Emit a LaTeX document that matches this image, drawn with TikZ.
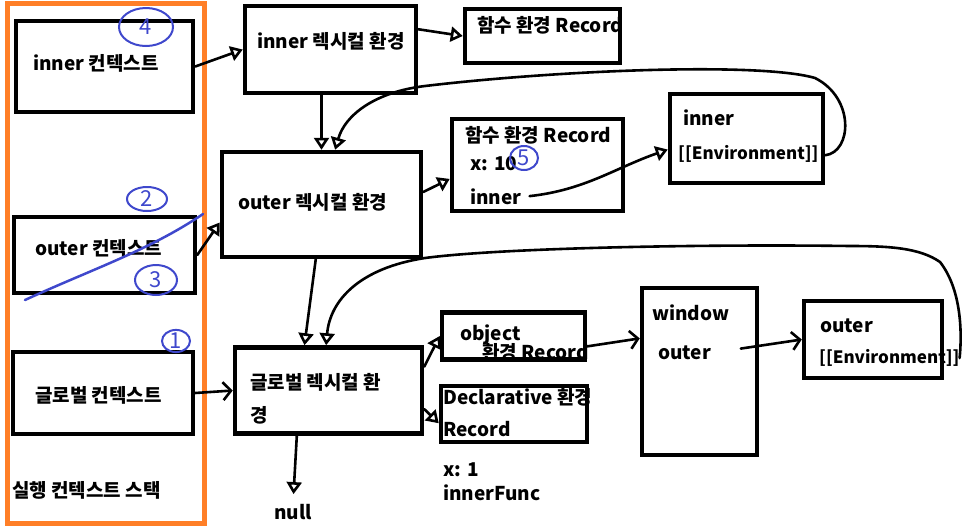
\documentclass[tikz,border=0pt]{standalone}
\usepackage{fontspec}
\setmainfont{Noto Sans CJK KR}
\usepackage{xcolor}
\usepackage{tikz}
\usetikzlibrary{arrows.meta,shapes.geometric}

\definecolor{paintorange}{RGB}{255,127,39}
\definecolor{paintblue}{RGB}{63,72,204}

\tikzset{
  box/.style={draw, rectangle, line width=4.5pt, inner sep=0pt},
  lbl/.style={anchor=west, inner sep=0pt, font=\bfseries\fontsize{19}{21}\selectfont},
  slot/.style={lbl, font=\bfseries\fontsize{17}{19}\selectfont},
  conn/.style={line width=2.6pt, line cap=round, line join=round},
  tri/.style={conn, -{Triangle[open, length=12pt, width=15pt]}},
  barb/.style={conn, -{Straight Barb[length=8pt, width=18pt]}},
  numcirc/.style={ellipse, draw=paintblue, line width=2pt, text=paintblue, inner sep=0pt, font=\fontsize{22}{22}\selectfont}
}

\begin{document}
\begin{tikzpicture}[x=1pt, y=-1pt]
    \useasboundingbox (0,0) rectangle (977,531);

    % stack
    \node[box, draw=paintorange, line width=5pt, minimum width=197pt, minimum height=520pt] (stack) at (105.5,263) {};

    % texts
    \node[lbl] (ctxInnerTxt) at (33,63) {inner 컨텍스트};
    \node[lbl] (ctxOuterTxt) at (35,248) {outer 컨텍스트};
    \node[lbl] (ctxGlobalTxt) at (35,395) {글로벌 컨텍스트};
    \node[lbl] (stackTxt) at (12,490) {실행 컨텍스트 스택};
    \node[lbl] (lexInnerTxt) at (257,41) {inner 렉시컬 환경};
    \node[lbl] (recInnerFnTxt) at (477,25) {함수 환경 Record};
    \node[lbl] (lexOuterTxt) at (238,202) {outer 렉시컬 환경};
    \node[lbl] (recOuterFnTxt) at (465,135) {함수 환경 Record};
    \node[lbl] (varX) at (470,164) {x: 10};
    \node[lbl] (varInner) at (470,197) {inner};
    \node[lbl] (envInnerName) at (683,118) {inner};
    \node[slot] (envInnerSlot) at (678,154) {[[Environment]]};
    \node[lbl] (lexGlobalTxtA) at (250,382) {글로벌 렉시컬 환};
    \node[lbl] (lexGlobalTxtB) at (250,415) {경};
    \node[lbl] (objTxtA) at (460,335) {object};
    \node[lbl] (objTxtB) at (482,352) {환경 Record};
    \node[lbl] (declTxtA) at (443,397) {Declarative 환경};
    \node[lbl] (declTxtB) at (443,429) {Record};
    \node[lbl] (varX1) at (443,470) {x: 1};
    \node[lbl] (varInnerFunc) at (443,493) {innerFunc};
    \node[lbl] (winTxt) at (652,313) {window};
    \node[lbl] (winOuter) at (658,353) {outer};
    \node[lbl] (envOuterName) at (820,326) {outer};
    \node[slot] (envOuterSlot) at (819,358) {[[Environment]]};
    \node[lbl] (null) at (274,512) {null};

    % boxes
    \node[box, minimum width=177pt, minimum height=91pt] (ctxInner) at (104.5,66.5) {};
    \node[box, minimum width=181pt, minimum height=76pt] (ctxOuter) at (104.5,255) {};
    \node[box, minimum width=180pt, minimum height=82pt] (ctxGlobal) at (103,393) {};
    \node[box, minimum width=171pt, minimum height=87pt] (lexInner) at (330.5,49.5) {};
    \node[box, minimum width=155pt, minimum height=54pt] (recInnerFn) at (542.5,36) {};
    \node[box, minimum width=199pt, minimum height=105pt] (lexOuter) at (321.5,204.5) {};
    \node[box, minimum width=171pt, minimum height=92pt] (recOuterFn) at (537.5,165) {};
    \node[box, minimum width=153pt, minimum height=89pt] (envInner) at (746.5,138.5) {};
    \node[box, minimum width=187pt, minimum height=86pt] (lexGlobal) at (328.5,390.5) {};
    \node[box, minimum width=143pt, minimum height=47pt] (recObject) at (513.5,336) {};
    \node[box, minimum width=146pt, minimum height=56pt] (recDecl) at (514,414) {};
    \node[box, minimum width=115pt, minimum height=167pt] (window) at (699.5,371.5) {};
    \node[box, minimum width=138pt, minimum height=77pt] (envOuter) at (873,339.5) {};

    % connectors
    \draw[tri] (ctxInner.east) -- (lexInner.west);
    \draw[tri] (ctxOuter.east) -- (lexOuter.190);
    \draw[barb] (ctxGlobal.east) -- (lexGlobal.west);
    \draw[tri] (lexInner.13) -- (recInnerFn.west);
    \draw[tri] (lexInner.south -| lexOuter.north) -- (lexOuter.north);
    \draw[tri] (envInner.-12) .. controls (852,152) and (855,98) .. (815,78)
        .. controls (760,62) and (560,70) .. (425,86)
        .. controls (375,92) and (345,115) .. (lexOuter.76);
    \draw[tri] (lexOuter.7) -- (recOuterFn.189);
    \draw[tri, shorten <=8pt] (varInner.east) .. controls (585,190) and (615,168) .. (envInner.188);
    \draw[tri] (lexOuter.-96) -- (lexGlobal.118);
    \draw[tri] (envOuterSlot.east) .. controls (962,335) and (962,290) .. (940,262)
        .. controls (920,248) and (890,246) .. (850,246)
        .. controls (700,244) and (500,248) .. (425,258)
        .. controls (360,268) and (330,300) .. (lexGlobal.93);
    \draw[tri] (lexGlobal.14) -- (recObject.west);
    \draw[tri] (lexGlobal.-11) -- (recDecl.187);
    \draw[tri, shorten >=10pt] (lexGlobal.-125) -- (null.north);
    \draw[barb] (recObject.-8) -- (window.151);
    \draw[barb, shorten <=30pt] (winOuter.east) -- (envOuter.west);

    % blue marks
    \draw[paintblue, line width=2.5pt, line cap=round] (25,300) .. controls (90,270) and (150,250) .. (203,214);
    \node[numcirc, minimum width=54pt, minimum height=38pt] (num4) at (146,27) {4};
    \node[numcirc, minimum width=40pt, minimum height=24pt] (num2) at (147,199) {2};
    \node[numcirc, minimum width=42pt, minimum height=30pt] (num3) at (156,280) {3};
    \node[numcirc, minimum width=28pt, minimum height=22pt] (num1) at (176,341) {1};
    \node[numcirc, minimum width=28pt, minimum height=24pt] (num5) at (524,158) {5};
\end{tikzpicture}
\end{document}
